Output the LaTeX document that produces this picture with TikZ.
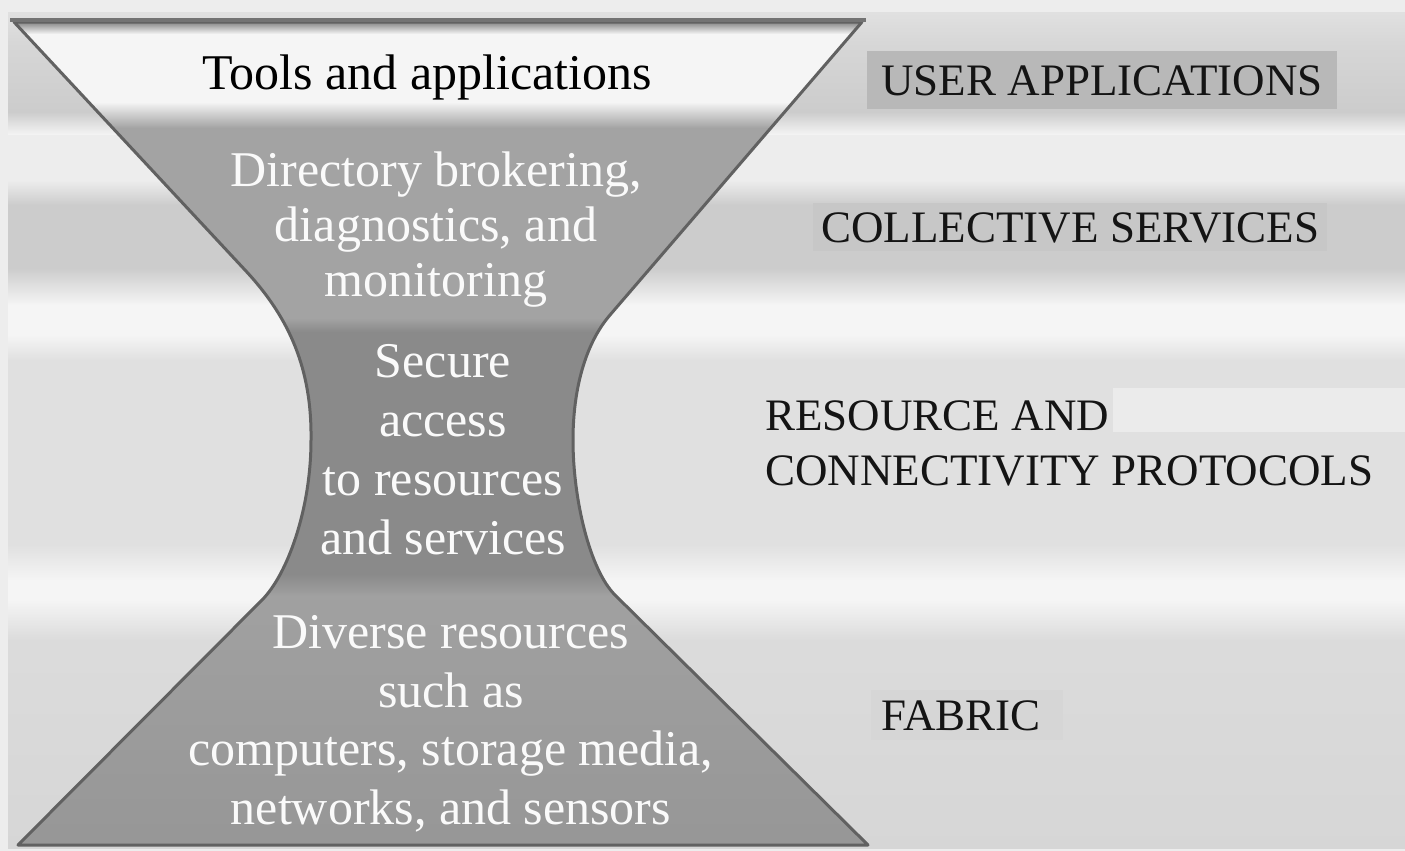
\documentclass[tikz,border=0pt]{standalone}
\usepackage{fontspec}
\setmainfont{Liberation Serif}
\definecolor{gA}{gray}{0.93}
\definecolor{gB}{gray}{0.88}
\definecolor{gC}{gray}{0.84}
\definecolor{gD}{gray}{0.72}
\definecolor{gE}{gray}{0.80}
\definecolor{gW}{gray}{0.96}
\definecolor{gF}{gray}{0.86}
\definecolor{hTop}{gray}{0.96}
\definecolor{hDir}{gray}{0.64}
\definecolor{hSec}{gray}{0.54}
\definecolor{hDivA}{gray}{0.63}
\definecolor{hDivB}{gray}{0.59}
\definecolor{hLine}{gray}{0.38}
\definecolor{hRim}{gray}{0.45}
\definecolor{boxUser}{gray}{0.72}
\definecolor{boxColl}{gray}{0.78}
\definecolor{boxRes}{gray}{0.92}
\definecolor{boxFab}{gray}{0.84}
\definecolor{txtW}{gray}{0.98}
\definecolor{txtK}{gray}{0.08}
\begin{document}
\begin{tikzpicture}[x=0.5pt,y=-0.5pt,
  midtext/.style={text=txtW, align=center, inner sep=0pt},
  toptext/.style={font=\fontsize{25}{29}\selectfont, text=black, inner sep=0pt},
  layerlabel/.style={font=\fontsize{22.5}{27.5}\selectfont, text=txtK, align=left},
  hgline/.style={draw=hLine, line width=1.5pt, line join=round}]
\useasboundingbox (0,0) rectangle (1405,851);
% ---- background bands
\fill[gA] (0,0) rectangle (1405,851);
\shade[top color=gB, bottom color=gC] (8,12) rectangle (1405,45);
\shade[top color=gC, middle color=gD, bottom color=gE] (8,45) rectangle (1405,112);
\shade[top color=gE, bottom color=gW] (8,112) rectangle (1405,135);
\fill[gA] (8,135) rectangle (1405,180);
\shade[top color=gA, bottom color=gE] (8,180) rectangle (1405,205);
\fill[gE] (8,205) rectangle (1405,268);
\shade[top color=gE, bottom color=gW] (8,268) rectangle (1405,305);
\fill[gW] (8,305) rectangle (1405,335);
\shade[top color=gW, bottom color=gB] (8,335) rectangle (1405,360);
\fill[gB] (8,360) rectangle (1405,545);
\shade[top color=gB, bottom color=gW] (8,545) rectangle (1405,580);
\fill[gW] (8,580) rectangle (1405,600);
\shade[top color=gW, bottom color=gF] (8,600) rectangle (1405,640);
\shade[top color=gF, bottom color=gC] (8,640) rectangle (1405,848);
% ---- hourglass
\def\hgpath{(14,22) -- (245,270) .. controls (290,318) and (312,370) .. (311,440) .. controls (311,510) and (287,575) .. (262,600) -- (18,845) -- (868,845) -- (615,595) .. controls (590,570) and (573,500) .. (573,440) .. controls (573,390) and (585,344) .. (610,315) -- (862,22) -- cycle}
\begin{scope}
\clip \hgpath;
\fill[hTop] (0,0) rectangle (900,102);
\shade[top color=hTop, bottom color=hDir] (0,102) rectangle (900,128);
\fill[hDir] (0,128) rectangle (900,318);
\shade[top color=hDir, bottom color=hSec] (0,318) rectangle (900,332);
\fill[hSec] (0,332) rectangle (900,574);
\shade[top color=hSec, bottom color=hDivA] (0,574) rectangle (900,596);
\shade[top color=hDivA, bottom color=hDivB] (0,596) rectangle (900,850);
\shade[top color=hRim, bottom color=hTop] (0,20) rectangle (900,34);
\end{scope}
\draw[hgline] \hgpath;
\draw[draw=hRim, line width=2pt] (10,20) -- (866,20);
% ---- texts in hourglass
\node[toptext, anchor=base] (tools) at (427,90) {Tools and applications};
\node[midtext, font=\fontsize{25}{27.5}\selectfont] (dir) at (436,230)
  {Directory brokering,\\diagnostics, and\\monitoring};
\node[midtext, font=\fontsize{25}{29.5}\selectfont] (sec) at (443,450)
  {Secure\\access\\to resources\\and services};
\node[midtext, font=\fontsize{25}{29.25}\selectfont] (div) at (451,724)
  {Diverse resources\\such as\\computers, storage media,\\networks, and sensors};
% ---- layer labels
\fill[boxRes] (1113,388) rectangle (1405,432);
\node[layerlabel, fill=boxUser, text height=15pt, text depth=0pt, inner xsep=7pt, inner ysep=7pt, anchor=base west] (user) at (867,95) {USER APPLICATIONS};
\node[layerlabel, fill=boxColl, text height=15pt, text depth=0pt, inner xsep=4pt, inner ysep=4.5pt, anchor=base west] (coll) at (813,242) {COLLECTIVE SERVICES};
\node[layerlabel, inner sep=0pt, anchor=north west] (res) at (765,400) {RESOURCE AND\\CONNECTIVITY PROTOCOLS};
\node[layerlabel, fill=boxFab, text height=15pt, text depth=0pt, inner xsep=5pt, inner ysep=5pt, anchor=base west] (fab) at (871,730) {FABRIC\hspace{6pt}};
\end{tikzpicture}
\end{document}
